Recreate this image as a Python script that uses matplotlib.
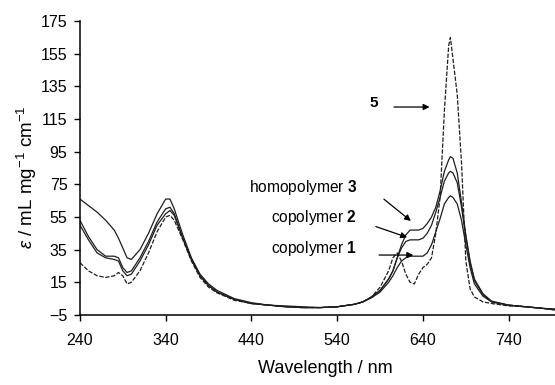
import matplotlib
matplotlib.use('Agg')
import matplotlib.pyplot as plt

plt.rcParams['font.family'] = ['Liberation Sans', 'DejaVu Sans']
plt.rcParams['mathtext.fontset'] = 'custom'
plt.rcParams['mathtext.rm'] = 'Liberation Sans'
plt.rcParams['mathtext.it'] = 'Liberation Sans:italic'
plt.rcParams['mathtext.bf'] = 'Liberation Sans:bold'

# ========================
# Data
# ========================
wavelength = [240, 250, 260, 270, 280, 285, 290, 295, 300, 310, 320, 330, 340, 345, 350,
              360, 370, 380, 390, 400, 420, 440, 460, 480, 500, 520, 540, 560, 570, 580,
              590, 600, 605, 610, 615, 620, 625, 630, 635, 640, 645, 650, 655, 660, 665,
              670, 672, 675, 680, 685, 690, 695, 700, 710, 720, 740, 760, 780, 795]

homopolymer3 = [66, 62, 58, 53, 47, 42, 36, 30, 29, 35, 45, 57, 66, 66, 60,
                44, 30, 20, 14, 10, 5, 2.5, 1, 0.5, 0, -0.5, 0, 1.5, 3, 6,
                10, 17, 22, 30, 38, 44, 47, 47, 47, 48, 51, 55, 61, 71, 83,
                90, 92, 91, 82, 64, 44, 28, 17, 8, 3.5, 1, 0, -1, -2]

copolymer2 = [53, 43, 35, 31, 31, 30, 24, 21, 22, 30, 40, 52, 60, 61, 57,
              42, 29, 19, 13, 9, 4.5, 2, 1, 0, -0.5, -0.5, 0, 1.5, 3, 6,
              10, 17, 22, 30, 36, 40, 41, 41, 41, 42, 45, 50, 58, 67, 77,
              82, 83, 82, 76, 61, 43, 27, 16, 7.5, 3, 1, 0, -1, -1.5]

copolymer1 = [50, 41, 33, 30, 29, 28, 22, 19, 20, 28, 38, 50, 57, 59, 56,
              42, 29, 19, 13, 9, 4.5, 2, 1, 0, -0.5, -0.5, 0, 1.5, 3, 5.5,
              9, 15, 19, 24, 28, 30, 31, 31, 31, 31, 33, 38, 46, 54, 63,
              67, 68, 67, 63, 53, 38, 24, 14, 6.5, 3, 1, 0, -1, -1.5]

compound5 = [27, 22, 19, 18, 19, 21, 19, 14, 15, 22, 33, 46, 55, 56, 53,
             41, 28, 18, 12, 8.5, 4, 2, 1, 0, -0.5, -0.5, 0, 1.5, 3, 6,
             12, 22, 30, 33, 28, 20, 15, 14, 20, 24, 26, 30, 45, 67, 120,
             160, 165, 152, 130, 88, 28, 11, 6, 3, 2, 0.5, 0, -1, -2]

y_ticks = [-5, 15, 35, 55, 75, 95, 115, 135, 155, 175]
x_ticks = [240, 340, 440, 540, 640, 740]

# ========================
# Plot
# ========================
fig = plt.figure(figsize=(5.55, 3.85), dpi=100)
ax = fig.add_axes([0.144, 0.182, 0.856, 0.763])

line_color = '#1e1e1e'
ax.plot(wavelength, homopolymer3, color=line_color, lw=0.9)
ax.plot(wavelength, copolymer2, color=line_color, lw=0.9)
ax.plot(wavelength, copolymer1, color=line_color, lw=0.9)
ax.plot(wavelength, compound5, color=line_color, lw=0.9, linestyle=(0, (3.5, 1.3)))

ax.set_xlim(240, 794)
ax.set_ylim(-5, 175)
ax.set_xticks(x_ticks)
ax.set_yticks(y_ticks)
ax.set_yticklabels([str(t).replace('-', '\u2212') for t in y_ticks])

for side in ['top', 'right']:
    ax.spines[side].set_visible(False)
for side in ['left', 'bottom']:
    ax.spines[side].set_linewidth(1.1)
ax.tick_params(direction='out', length=4, width=1.0, labelsize=11.5)
ax.tick_params(axis='x', pad=9)
ax.tick_params(axis='y', pad=5)

ax.set_xlabel('Wavelength / nm', fontsize=13)
ax.xaxis.set_label_coords(0.516, -0.155)
ax.set_ylabel(r'$\it{\varepsilon}$ / mL mg$^{-1}$ cm$^{-1}$', fontsize=13.5)
ax.yaxis.set_label_coords(-0.086, 0.47)

# annotations with arrows
arrow = dict(arrowstyle='-|>', color='k', lw=0.9, mutation_scale=9)
ax.annotate('', xy=(651, 122.4), xytext=(603, 122.4), arrowprops=arrow)
ax.text(583, 125, r'$\mathbf{5}$', fontsize=11, ha='center', va='center')

ax.annotate('', xy=(628.5, 51.5), xytext=(592, 67), arrowprops=arrow)
ax.text(563, 72.8, r'homopolymer $\mathbf{3}$', fontsize=11.2, ha='right', va='center')

ax.annotate('', xy=(624.6, 42), xytext=(582, 49.7), arrowprops=arrow)
ax.text(563, 54.4, r'copolymer $\mathbf{2}$', fontsize=11.2, ha='right', va='center')

ax.annotate('', xy=(632, 31.7), xytext=(585.6, 31.7), arrowprops=arrow)
ax.text(563, 35.8, r'copolymer $\mathbf{1}$', fontsize=11.2, ha='right', va='center')

plt.savefig('out.png', dpi=100)
plt.close()
